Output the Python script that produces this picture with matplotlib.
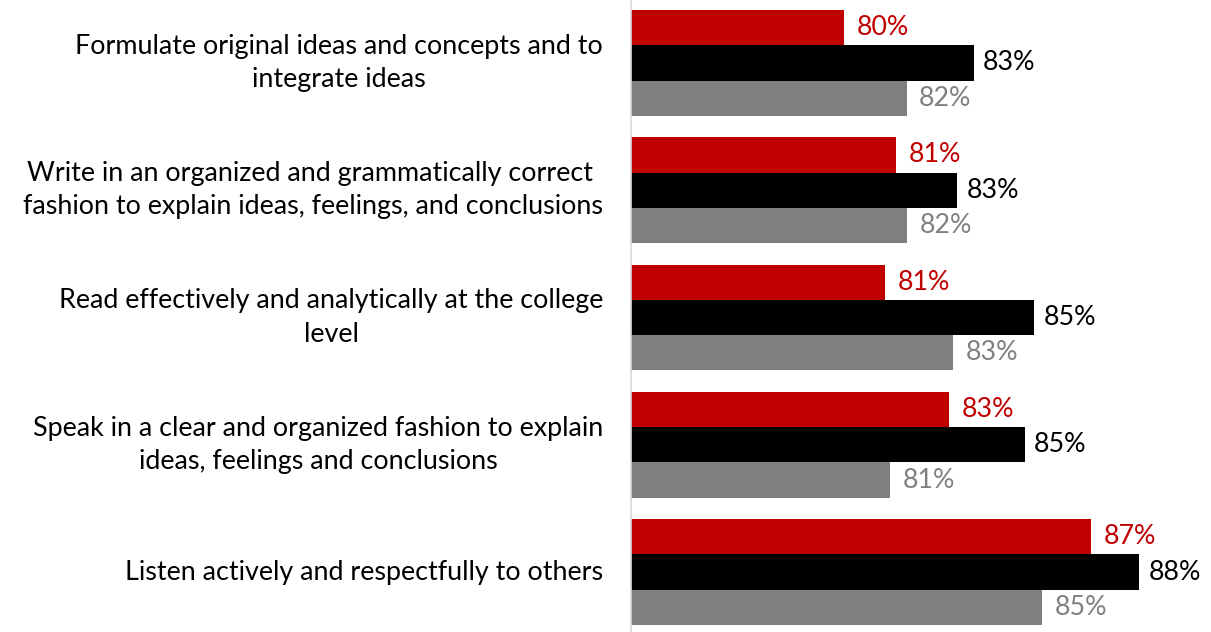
import matplotlib
matplotlib.use("Agg")
import matplotlib.pyplot as plt
import numpy as np

categories = [
    "Formulate original ideas and concepts and to\nintegrate ideas",
    "Write in an organized and grammatically correct \nfashion to explain ideas, feelings, and conclusions",
    "Read effectively and analytically at the college\nlevel",
    "Speak in a clear and organized fashion to explain\nideas, feelings and conclusions",
    "Listen actively and respectfully to others",
]
red_vals = [79.84, 81.26, 80.97, 82.71, 86.60]
black_vals = [83.40, 82.94, 85.05, 84.80, 87.93]
gray_vals = [81.55, 81.56, 82.83, 81.10, 85.26]

colors = ["#C00000", "#000000", "#7F7F7F"]
label_colors = ["#C00000", "#000000", "#808080"]
label_offsets = [9, 6.5, 9]

plt.rcParams['font.family'] = ['Lato', 'DejaVu Sans']

W, H = 1211, 632
fig = plt.figure(figsize=(W / 100, H / 100), dpi=100)
ax = fig.add_axes([631 / W, 0, 1 - 631 / W, 1])

y = np.arange(len(categories))
h = 0.277
series = [red_vals, black_vals, gray_vals]
for i, (vals, c, lc, off) in enumerate(zip(series, colors, label_colors, label_offsets)):
    ypos = y + (i - 1) * h
    ax.barh(ypos, vals, height=h, color=c, left=0)
    for yy, v in zip(ypos, vals):
        ax.annotate(f"{round(v):.0f}%", xy=(v, yy), xytext=(off, 0),
                    textcoords="offset points", va="center", ha="left",
                    color=lc, fontsize=19.3)

ax.set_xlim(74, 74 + 580 / 36.5)
ax.set_ylim(4.471, -0.494)

ax.set_yticks(y)
ax.set_yticklabels(categories, fontsize=19.4, linespacing=1.42)
for lab in ax.get_yticklabels():
    lab.set_multialignment('center')
    lab.set_va('center')
ax.tick_params(axis='y', length=0, pad=20)
ax.tick_params(axis='x', bottom=False, labelbottom=False)

for s in ["top", "right", "bottom"]:
    ax.spines[s].set_visible(False)
ax.spines["left"].set_color("#D9D9D9")
ax.spines["left"].set_linewidth(1.2)

fig.savefig("out.png", dpi=100)
